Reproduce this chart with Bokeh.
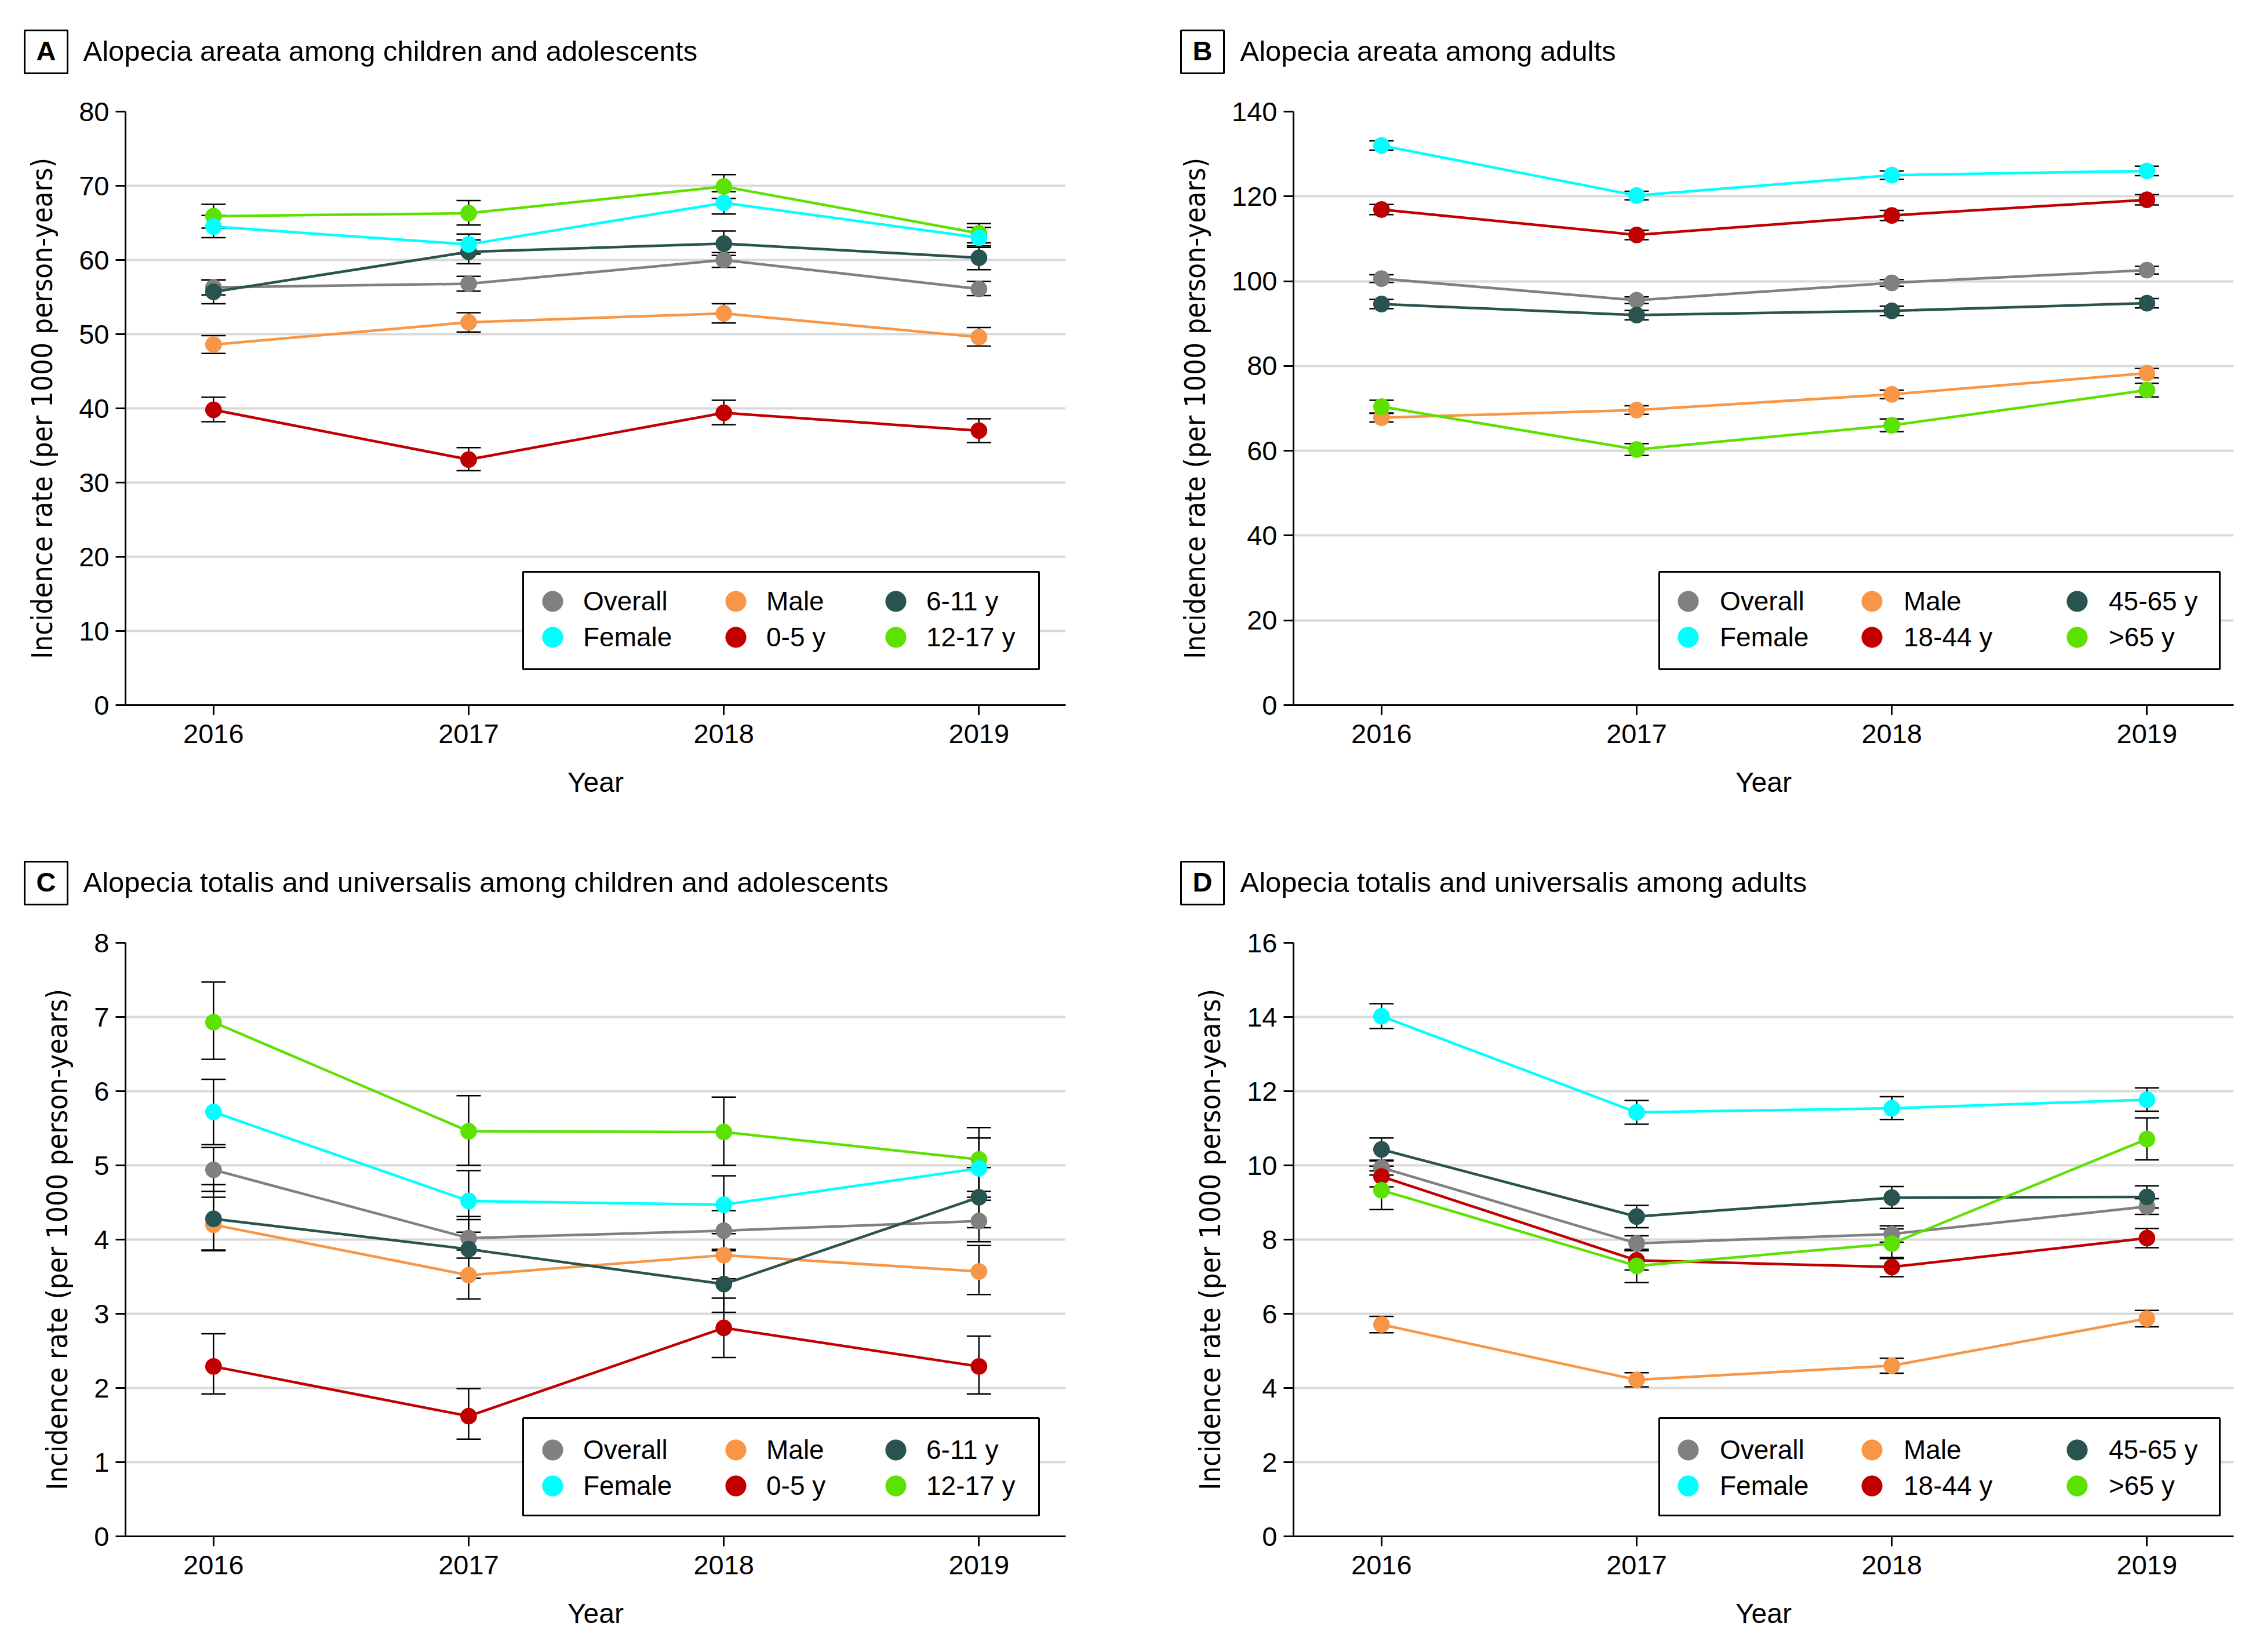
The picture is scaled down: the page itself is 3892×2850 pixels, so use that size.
from bokeh.plotting import figure
from bokeh.models import (ColumnDataSource, Whisker, TeeHead, FixedTicker, Legend,
                          LegendItem, Label, BoxAnnotation, Range1d)
from bokeh.layouts import column, row
from bokeh.embed import file_html
from bokeh.resources import INLINE

years = [2016, 2017, 2018, 2019]

# ---------------- Panel A: alopecia areata, children and adolescents
a_title = "Alopecia areata among children and adolescents"
a_labels = ["Overall", "Female", "Male", "0-5 y", "6-11 y", "12-17 y"]
a_overall = [56.3, 56.8, 60.0, 56.1]
a_overall_lo = [55.3, 55.8, 59.0, 55.2]
a_overall_hi = [57.3, 57.8, 61.0, 57.1]
a_female = [64.5, 62.1, 67.7, 63.0]
a_female_lo = [63.0, 60.8, 66.2, 61.7]
a_female_hi = [66.0, 63.5, 69.2, 64.4]
a_male = [48.6, 51.6, 52.8, 49.6]
a_male_lo = [47.4, 50.3, 51.5, 48.4]
a_male_hi = [49.8, 52.9, 54.1, 50.9]
a_0_5 = [39.8, 33.1, 39.4, 37.0]
a_0_5_lo = [38.2, 31.6, 37.8, 35.4]
a_0_5_hi = [41.5, 34.7, 41.1, 38.6]
a_6_11 = [55.7, 61.1, 62.2, 60.3]
a_6_11_lo = [54.1, 59.5, 60.6, 58.7]
a_6_11_hi = [57.3, 62.7, 63.9, 61.9]
a_12_17 = [65.9, 66.3, 69.9, 63.6]
a_12_17_lo = [64.3, 64.7, 68.3, 62.3]
a_12_17_hi = [67.5, 68.0, 71.5, 64.9]
a_yticks = [0, 10, 20, 30, 40, 50, 60, 70, 80]

# ---------------- Panel B: alopecia areata, adults
b_title = "Alopecia areata among adults"
b_labels = ["Overall", "Female", "Male", "18-44 y", "45-65 y", ">65 y"]
b_overall = [100.6, 95.5, 99.6, 102.6]
b_overall_lo = [99.7, 94.7, 98.8, 101.7]
b_overall_hi = [101.5, 96.3, 100.4, 103.5]
b_female = [132.0, 120.2, 125.0, 126.0]
b_female_lo = [130.9, 119.2, 124.0, 124.9]
b_female_hi = [133.1, 121.2, 126.0, 127.1]
b_male = [67.8, 69.6, 73.3, 78.3]
b_male_lo = [66.8, 68.6, 72.3, 77.2]
b_male_hi = [68.8, 70.6, 74.3, 79.4]
b_18_44 = [116.9, 110.9, 115.5, 119.2]
b_18_44_lo = [115.7, 109.8, 114.3, 118.0]
b_18_44_hi = [118.1, 112.0, 116.7, 120.4]
b_45_65 = [94.6, 92.0, 93.0, 94.8]
b_45_65_lo = [93.5, 90.9, 91.9, 93.7]
b_45_65_hi = [95.7, 93.1, 94.1, 95.9]
b_over65 = [70.4, 60.3, 66.0, 74.3]
b_over65_lo = [68.9, 58.9, 64.5, 72.7]
b_over65_hi = [71.9, 61.7, 67.5, 75.9]
b_yticks = [0, 20, 40, 60, 80, 100, 120, 140]

# ---------------- Panel C: totalis/universalis, children and adolescents
c_title = "Alopecia totalis and universalis among children and adolescents"
c_labels = ["Overall", "Female", "Male", "0-5 y", "6-11 y", "12-17 y"]
c_overall = [4.94, 4.02, 4.12, 4.25]
c_overall_lo = [4.65, 3.75, 3.87, 3.97]
c_overall_hi = [5.24, 4.31, 4.39, 4.53]
c_female = [5.72, 4.52, 4.47, 4.96]
c_female_lo = [5.28, 4.10, 4.08, 4.57]
c_female_hi = [6.16, 4.93, 4.86, 5.37]
c_male = [4.20, 3.52, 3.79, 3.57]
c_male_lo = [3.86, 3.20, 3.47, 3.26]
c_male_hi = [4.57, 3.86, 4.12, 3.92]
c_0_5 = [2.29, 1.62, 2.81, 2.29]
c_0_5_lo = [1.92, 1.31, 2.41, 1.92]
c_0_5_hi = [2.73, 1.99, 3.21, 2.70]
c_6_11 = [4.28, 3.87, 3.40, 4.57]
c_6_11_lo = [3.85, 3.48, 3.02, 4.16]
c_6_11_hi = [4.74, 4.27, 3.85, 4.97]
c_12_17 = [6.93, 5.46, 5.45, 5.08]
c_12_17_lo = [6.43, 5.00, 5.00, 4.65]
c_12_17_hi = [7.47, 5.94, 5.92, 5.51]
c_yticks = [0, 1, 2, 3, 4, 5, 6, 7, 8]

# ---------------- Panel D: totalis/universalis, adults
d_title = "Alopecia totalis and universalis among adults"
d_labels = ["Overall", "Female", "Male", "18-44 y", "45-65 y", ">65 y"]
d_overall = [9.94, 7.90, 8.15, 8.89]
d_overall_lo = [9.74, 7.70, 7.93, 8.68]
d_overall_hi = [10.14, 8.10, 8.37, 9.10]
d_female = [14.02, 11.43, 11.54, 11.77]
d_female_lo = [13.69, 11.11, 11.24, 11.46]
d_female_hi = [14.36, 11.75, 11.85, 12.09]
d_male = [5.71, 4.22, 4.60, 5.87]
d_male_lo = [5.49, 4.03, 4.40, 5.65]
d_male_hi = [5.93, 4.41, 4.80, 6.09]
d_18_44 = [9.70, 7.44, 7.26, 8.04]
d_18_44_lo = [9.42, 7.18, 7.00, 7.78]
d_18_44_hi = [9.98, 7.70, 7.52, 8.30]
d_45_65 = [10.43, 8.62, 9.13, 9.15]
d_45_65_lo = [10.12, 8.32, 8.84, 8.85]
d_45_65_hi = [10.74, 8.92, 9.43, 9.45]
d_over65 = [9.33, 7.29, 7.89, 10.71]
d_over65_lo = [8.81, 6.84, 7.49, 10.15]
d_over65_hi = [9.85, 7.74, 8.29, 11.28]
d_yticks = [0, 2, 4, 6, 8, 10, 12, 14, 16]

colors = ["#808080", "#00FFFF", "#F79646", "#C00000", "#28534F", "#5CE100"]
# drawing order: Overall, Male, youngest, middle, oldest, Female
draw_order = [0, 2, 3, 4, 5, 1]

FONT = "Liberation Sans"
YFONT = "DejaVu Sans Condensed"
FRAME_W, FRAME_H = 1622, 1024
LEFT_W, RIGHT_W = 2030, 1854
TOTAL_W = LEFT_W + RIGHT_W


def make_header(height, heads):
    """heads: list of (letter, title, box_left, title_left) in page pixels."""
    h = figure(width=TOTAL_W, height=height, frame_width=TOTAL_W, frame_height=height,
               min_border=0, min_border_left=0, min_border_right=0, min_border_top=0,
               min_border_bottom=0, output_backend="svg", toolbar_location=None,
               x_axis_type=None, y_axis_type=None,
               x_range=Range1d(0, 1), y_range=Range1d(0, 1))
    h.outline_line_color = None
    h.grid.visible = False
    h.background_fill_color = "white"
    h.border_fill_color = "white"
    for letter, title, box_l, title_x in heads:
        h.add_layout(BoxAnnotation(left=box_l, right=box_l + 74, bottom=32, top=106,
                                   left_units="screen", right_units="screen",
                                   bottom_units="screen", top_units="screen",
                                   fill_color="white", fill_alpha=1, line_color="black",
                                   line_width=3, line_alpha=1))
        h.add_layout(Label(x=box_l + 37, y=71, x_units="screen", y_units="screen",
                           text=letter, text_font=FONT, text_font_style="bold",
                           text_font_size="47px", text_align="center",
                           text_baseline="alphabetic", text_color="black"))
        h.add_layout(Label(x=title_x, y=71, x_units="screen", y_units="screen",
                           text=title, text_font=FONT, text_font_size="49px",
                           text_align="left", text_baseline="alphabetic",
                           text_color="black"))
    return h


def make_panel(labels, vals, los, his, yticks, width, height, border_left,
               leg_box, leg_cols, leg_rows, standoff):
    p = figure(width=width, height=height, frame_width=FRAME_W, frame_height=FRAME_H,
               min_border_left=border_left, min_border_top=34,
               min_border_right=width - border_left - FRAME_W,
               min_border_bottom=height - 34 - FRAME_H, output_backend="svg",
               toolbar_location=None, x_range=Range1d(2015.655, 2019.34),
               y_range=Range1d(yticks[0], yticks[-1]))
    p.outline_line_color = None
    p.background_fill_color = "white"
    p.border_fill_color = "white"
    p.xgrid.grid_line_color = None
    p.ygrid.grid_line_color = "#D9D9D9"
    p.ygrid.grid_line_width = 4
    p.ygrid.ticker = FixedTicker(ticks=yticks)
    p.yaxis.ticker = FixedTicker(ticks=yticks)
    p.xaxis.ticker = FixedTicker(ticks=years)
    for ax in (p.xaxis[0], p.yaxis[0]):
        ax.axis_line_width = 3
        ax.axis_line_color = "black"
        ax.major_tick_line_width = 3
        ax.major_tick_line_color = "black"
        ax.major_tick_out = 17
        ax.major_tick_in = 0
        ax.minor_tick_line_color = None
        ax.major_label_text_font = FONT
        ax.major_label_text_font_size = "47px"
        ax.major_label_text_color = "black"
        ax.axis_label_text_font_style = "normal"
        ax.axis_label_text_color = "black"
    p.yaxis.major_label_standoff = 11
    p.xaxis.major_label_standoff = 16
    p.xaxis.axis_label = "Year"
    p.xaxis.axis_label_text_font = FONT
    p.xaxis.axis_label_text_font_size = "48px"
    p.xaxis.axis_label_standoff = 38
    p.yaxis.axis_label = "Incidence rate (per 1000 person-years)"
    p.yaxis.axis_label_text_font = YFONT
    p.yaxis.axis_label_text_font_size = "49px"
    p.yaxis.axis_label_standoff = 31

    glyphs = [None] * 6
    for i in draw_order:
        src = ColumnDataSource(dict(x=years, y=vals[i], lower=los[i], upper=his[i]))
        wh = Whisker(base="x", upper="upper", lower="lower", source=src,
                     line_color="black", line_width=2.5,
                     upper_head=TeeHead(size=42, line_color="black", line_width=2.5),
                     lower_head=TeeHead(size=42, line_color="black", line_width=2.5))
        p.add_layout(wh)
        p.line(x="x", y="y", source=src, line_color=colors[i], line_width=4.5)
        glyphs[i] = p.ellipse(x="x", y="y", width=28, height=28, width_units="screen",
                              height_units="screen", source=src, fill_color=colors[i],
                              line_color=colors[i])

    # legend frame
    l, r, b, t = leg_box
    p.add_layout(BoxAnnotation(left=l, right=r, bottom=b, top=t, left_units="screen",
                               right_units="screen", bottom_units="screen",
                               top_units="screen", fill_color="white", fill_alpha=1,
                               line_color="black", line_width=3, line_alpha=1))
    # three legend columns, two rows each
    for c in range(3):
        items = [LegendItem(label=labels[2 * c + k], renderers=[glyphs[2 * c + k]])
                 for k in range(2)]
        leg = Legend(items=items, location=(leg_cols[c] - 22, leg_rows[1] - 31),
                     orientation="vertical", padding=0, margin=0, spacing=0,
                     glyph_width=44, glyph_height=62, label_height=62,
                     label_standoff=standoff, label_text_font=FONT,
                     label_text_font_size="46px", label_text_color="black",
                     border_line_color=None, background_fill_alpha=0)
        p.add_layout(leg)
    return p


TOP_HEAD, BOT_HEAD = 158, 150
TOP_H, BOT_H = 1284, 1250

hTop = make_header(TOP_HEAD, [("A", a_title, 42, 143), ("B", b_title, 2037, 2139)])
hBot = make_header(BOT_HEAD, [("C", c_title, 42, 143), ("D", d_title, 2037, 2139)])

pA = make_panel(a_labels,
                [a_overall, a_female, a_male, a_0_5, a_6_11, a_12_17],
                [a_overall_lo, a_female_lo, a_male_lo, a_0_5_lo, a_6_11_lo, a_12_17_lo],
                [a_overall_hi, a_female_hi, a_male_hi, a_0_5_hi, a_6_11_hi, a_12_17_hi],
                a_yticks, LEFT_W, TOP_H, 216,
                (686, 1576, 62, 230), [737, 1053, 1329], [179, 117], 31)
pB = make_panel(b_labels,
                [b_overall, b_female, b_male, b_18_44, b_45_65, b_over65],
                [b_overall_lo, b_female_lo, b_male_lo, b_18_44_lo, b_45_65_lo, b_over65_lo],
                [b_overall_hi, b_female_hi, b_male_hi, b_18_44_hi, b_45_65_hi, b_over65_hi],
                b_yticks, RIGHT_W, TOP_H, 201,
                (631, 1598, 62, 230), [681, 998, 1352], [179, 117], 33)
pC = make_panel(c_labels,
                [c_overall, c_female, c_male, c_0_5, c_6_11, c_12_17],
                [c_overall_lo, c_female_lo, c_male_lo, c_0_5_lo, c_6_11_lo, c_12_17_lo],
                [c_overall_hi, c_female_hi, c_male_hi, c_0_5_hi, c_6_11_hi, c_12_17_hi],
                c_yticks, LEFT_W, BOT_H, 216,
                (686, 1576, 36, 204), [737, 1053, 1329], [149, 87], 31)
pD = make_panel(d_labels,
                [d_overall, d_female, d_male, d_18_44, d_45_65, d_over65],
                [d_overall_lo, d_female_lo, d_male_lo, d_18_44_lo, d_45_65_lo, d_over65_lo],
                [d_overall_hi, d_female_hi, d_male_hi, d_18_44_hi, d_45_65_hi, d_over65_hi],
                d_yticks, RIGHT_W, BOT_H, 201,
                (631, 1598, 36, 204), [681, 998, 1352], [149, 87], 33)

layout = column(hTop, row(pA, pB, spacing=0), hBot, row(pC, pD, spacing=0), spacing=0)
open("out.html", "w").write(file_html(layout, INLINE))
